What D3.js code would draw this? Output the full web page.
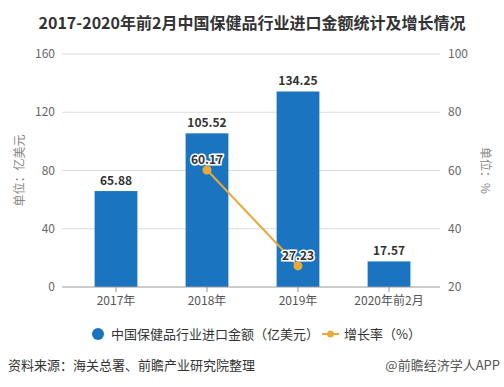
<!DOCTYPE html>
<html>
<head>
<meta charset="utf-8">
<script src="https://cdn.jsdelivr.net/npm/d3@7"></script>
<style>
  body { margin: 0; background: #fff; }
  svg { font-family: "Noto Sans CJK SC", "Noto Sans", sans-serif; }
</style>
</head>
<body>
<svg id="chart" width="504" height="387"></svg>
<script>
// données
const categories = ["2017年", "2018年", "2019年", "2020年前2月"];
const importValues = [65.88, 105.52, 134.25, 17.57];
const growthCats = ["2018年", "2019年"];
const growthValues = [60.17, 27.23];
const leftTicks = [0, 40, 80, 120, 160];
const rightTicks = [20, 40, 60, 80, 100];

const svg = d3.select("#chart");
const gridLeft = 62, gridRight = 440;
const plotTop = 54, plotBottom = 287;

const x = d3.scaleBand()
  .domain(categories)
  .range([70.5, 434.5])
  .paddingInner(0.53)
  .paddingOuter(0.265);

const y = d3.scaleLinear().domain([0, 160]).range([plotBottom, plotTop]);
const y2 = d3.scaleLinear().domain([20, 100]).range([plotBottom, plotTop]);

// titre
svg.append("text")
  .attr("x", 252).attr("y", 29)
  .attr("text-anchor", "middle")
  .style("font-size", "16px")
  .style("font-weight", "bold")
  .style("fill", "#333")
  .text("2017-2020年前2月中国保健品行业进口金额统计及增长情况");

// grille
svg.append("g")
  .selectAll("line")
  .data(leftTicks.slice(1))
  .join("line")
  .attr("x1", gridLeft).attr("x2", gridRight)
  .attr("y1", d => y(d)).attr("y2", d => y(d))
  .style("stroke", "#dcdcdc");

// axe gauche
svg.append("g")
  .selectAll("text")
  .data(leftTicks)
  .join("text")
  .attr("x", 55).attr("y", d => y(d) + 4)
  .attr("text-anchor", "end")
  .style("font-size", "12px")
  .style("fill", "#666")
  .text(d => d);

// axe droit
svg.append("g")
  .selectAll("text")
  .data(rightTicks)
  .join("text")
  .attr("x", 448).attr("y", d => y2(d) + 4)
  .style("font-size", "12px")
  .style("fill", "#666")
  .text(d => d);

// barres
svg.append("g")
  .selectAll("rect")
  .data(importValues)
  .join("rect")
  .attr("x", (d, i) => x(categories[i]))
  .attr("y", d => y(d))
  .attr("width", x.bandwidth())
  .attr("height", d => plotBottom - y(d))
  .style("fill", "#1a74c0");

svg.append("g")
  .selectAll("text")
  .data(importValues)
  .join("text")
  .attr("x", (d, i) => x(categories[i]) + x.bandwidth() / 2)
  .attr("y", d => y(d) - 6)
  .attr("text-anchor", "middle")
  .style("font-size", "12px")
  .style("font-weight", "bold")
  .style("fill", "#333")
  .text(d => d.toFixed(2));

// axe x
svg.append("line")
  .attr("x1", gridLeft).attr("x2", gridRight)
  .attr("y1", plotBottom).attr("y2", plotBottom)
  .style("stroke", "#999");

svg.append("g")
  .selectAll("line")
  .data(categories)
  .join("line")
  .attr("x1", d => x(d) + x.bandwidth() / 2)
  .attr("x2", d => x(d) + x.bandwidth() / 2)
  .attr("y1", plotBottom).attr("y2", plotBottom + 5)
  .style("stroke", "#999");

svg.append("g")
  .selectAll("text")
  .data(categories)
  .join("text")
  .attr("x", d => x(d) + x.bandwidth() / 2)
  .attr("y", plotBottom + 18)
  .attr("text-anchor", "middle")
  .style("font-size", "12px")
  .style("fill", "#555")
  .text(d => d);

// courbe
const cx = d => x(d) + x.bandwidth() / 2;
const line = d3.line()
  .x((d, i) => cx(growthCats[i]))
  .y(d => y2(d));

svg.append("path")
  .datum(growthValues)
  .attr("d", line)
  .style("fill", "none")
  .style("stroke", "#e8aa3c")
  .style("stroke-width", 2);

svg.append("g")
  .selectAll("circle")
  .data(growthValues)
  .join("circle")
  .attr("cx", (d, i) => cx(growthCats[i]))
  .attr("cy", d => y2(d))
  .attr("r", 4.5)
  .style("fill", "#e8aa3c");

svg.append("g")
  .selectAll("text")
  .data(growthValues)
  .join("text")
  .attr("x", (d, i) => cx(growthCats[i]))
  .attr("y", d => y2(d) - 6)
  .attr("text-anchor", "middle")
  .style("font-size", "12px")
  .style("font-weight", "bold")
  .style("fill", "#333")
  .style("stroke", "#fff")
  .style("stroke-width", 3)
  .style("paint-order", "stroke")
  .text(d => d.toFixed(2));

// titres des axes
svg.append("text")
  .attr("transform", `translate(24,${(plotTop + plotBottom) / 2}) rotate(-90)`)
  .attr("text-anchor", "middle")
  .style("font-size", "12px")
  .style("fill", "#888")
  .text("单位：亿美元");

svg.append("text")
  .attr("transform", `translate(481,${(plotTop + plotBottom) / 2}) rotate(90)`)
  .attr("text-anchor", "middle")
  .style("font-size", "12px")
  .style("fill", "#888")
  .text("单位：%");

// légende
const legend = svg.append("g");
legend.append("circle").attr("cx", 98).attr("cy", 334).attr("r", 6).style("fill", "#1a74c0");
legend.append("text").attr("x", 111).attr("y", 339)
  .style("font-size", "13px").style("fill", "#333")
  .text("中国保健品行业进口金额（亿美元）");
legend.append("line").attr("x1", 322).attr("x2", 339).attr("y1", 334).attr("y2", 334)
  .style("stroke", "#e8aa3c").style("stroke-width", 2);
legend.append("circle").attr("cx", 330.5).attr("cy", 334).attr("r", 3.5).style("fill", "#e8aa3c");
legend.append("text").attr("x", 344).attr("y", 339)
  .style("font-size", "13px").style("fill", "#333")
  .text("增长率（%）");

// source
svg.append("text")
  .attr("x", 8).attr("y", 370)
  .style("font-size", "13px")
  .style("fill", "#333")
  .text("资料来源：海关总署、前瞻产业研究院整理");

svg.append("text")
  .attr("x", 500).attr("y", 370)
  .attr("text-anchor", "end")
  .style("font-size", "13px")
  .style("fill", "#555")
  .text("@前瞻经济学人APP");
</script>
</body>
</html>
